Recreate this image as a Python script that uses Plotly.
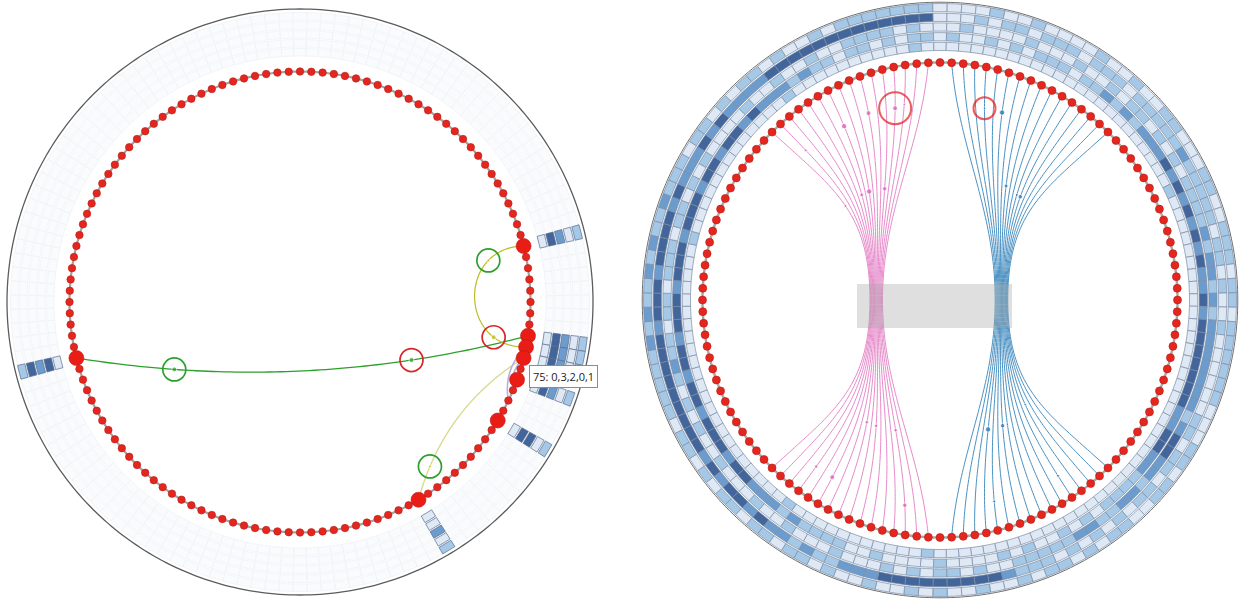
import math
import plotly.graph_objects as go

N_NODES = 128
STEP = 360.0 / N_NODES
START_ANGLE = 196.875  # node 0 sits just below the west point; indices run clockwise

# Per-node values (0-3) for the five rings, innermost ring first, 16 nodes per chunk
ring_0 = ["0000000000010000", "0000000001000000", "0000100000000000", "0000000000000100",
          "0000000000000000", "0000000000000000", "0000000100000000", "0001000000000000"]
ring_1 = ["2332333233323332", "3323323222121101", "1010110100101011", "1011212122232323",
          "2323223233333332", "2332211110101001", "0100001000010011", "1121222332333233"]
ring_2 = ["1211011011101101", "0100001001001001", "1110100010000100", "0100101101010111",
          "1212212122222221", "2332212211221111", "1001011010100010", "0010010001001010"]
ring_3 = ["3333233323333232", "2232322223333333", "3333330001011011", "1011101111121111",
          "1011010010000001", "1011011010101011", "1233333333322211", "2122323323233333"]
ring_4 = ["1112121121211211", "1011010110100101", "1111110000100100", "0010010011000110",
          "0111011011111100", "0110110011010110", "1001001010010010", "1101101101011011"]

RINGS = [[int(c) for c in "".join(chunks)] for chunks in (ring_0, ring_1, ring_2, ring_3, ring_4)]
for vals in RINGS:
    assert len(vals) == N_NODES

LEVEL_COLORS = ["#dfe9f5", "#a6c8e7", "#6c9ccd", "#42659b"]

# Left view: nodes in focus and the hovered node
focus_nodes = [1, 65, 73, 74, 75, 77, 81, 91]
hover_node = 75

# Left view links
left_src = [1, 65, 91, 74, 75]
left_dst = [73, 74, 75, 79, 78]
left_color = ["#2ca02c", "#bcbd22", "#d8d98a", "#b9aee0", "#b9aee0"]
left_width = [1.3, 1.2, 1.3, 1.6, 1.6]
left_bend = [32, 67, -23, 10, 6]
left_pull = [1 / 3, 0.0, 1 / 3, 1 / 3, 1 / 3]

# Marked points on left links: link index, position along link, ring color, dot color, dot size
mark_link = [0, 0, 1, 1, 2]
mark_pos = [0.215, 0.74, 0.23, 0.80, 0.19]
mark_ring = ["#2ca02c", "#d62728", "#2ca02c", "#d62728", "#2ca02c"]
mark_dot = ["#2ca02c", "#2ca02c", "#bcbd22", "#bcbd22", "#bcbd22"]
mark_size = [5, 5, 3, 5, 3]

# Right view: two bundles of links, source -> target
pink_src = [22, 23, 24, 25, 26, 27, 28, 29, 30, 31, 32, 33, 34, 35, 36, 37]
pink_dst = [118, 117, 116, 115, 114, 113, 112, 111, 110, 109, 108, 107, 106, 105, 104, 103]
blue_src = [39, 40, 41, 42, 43, 44, 45, 46, 47, 48, 49, 50, 51, 52, 53, 54]
blue_dst = [101, 100, 99, 98, 97, 96, 95, 94, 93, 92, 91, 90, 89, 88, 87, 86]

# Points on the bundled links: source node, position along link, size
pink_pt_node = [23, 28, 31, 34, 35, 22, 27, 29, 33, 29, 31, 35, 25, 27, 35]
pink_pt_pos = [0.08, 0.085, 0.08, 0.085, 0.08, 0.26, 0.26, 0.26, 0.265, 0.775, 0.775, 0.775, 0.935, 0.935, 0.94]
pink_pt_size = [3, 5.5, 5, 5, 2.5, 3, 4, 5.5, 4.5, 3.5, 3.5, 3.5, 3.5, 5, 4.5]
blue_pt_node = [42, 44, 46, 49, 50, 42, 45, 46, 51, 50, 43]
blue_pt_pos = [0.085, 0.085, 0.25, 0.26, 0.26, 0.775, 0.775, 0.775, 0.75, 0.945, 0.94]
blue_pt_size = [2.5, 5.5, 4, 3, 4.5, 5.5, 4.5, 2.5, 2.5, 3, 3]
# highlighted points: (bundle, index into its point list, ring size)
highlight = [("pink", 3, 32), ("blue", 0, 22)]

W, H = 1240, 599
L_CX, L_CY, L_RAD = 300, 302, 297
R_CX, R_CY, R_RAD = 940, 300, 299


def node_angle(k):
    return START_ANGLE - k * STEP


def node_xy(k, radius):
    a = math.radians(node_angle(k))
    return (radius * math.cos(a), radius * math.sin(a))


def to_polar(points):
    rs, ths = [], []
    for p in points:
        if p is None:
            rs.append(None)
            ths.append(None)
            continue
        rs.append(math.hypot(p[0], p[1]))
        ths.append(math.degrees(math.atan2(p[1], p[0])))
    return rs, ths


def cubic(p0, c1, c2, p3, t):
    u = 1 - t
    return (u ** 3 * p0[0] + 3 * u * u * t * c1[0] + 3 * u * t * t * c2[0] + t ** 3 * p3[0],
            u ** 3 * p0[1] + 3 * u * u * t * c1[1] + 3 * u * t * t * c2[1] + t ** 3 * p3[1])


L_NODE_R = 230.5
R_NODE_R = 237.5
PINK_WAIST = -61.5
BLUE_WAIST = 59.0
WAIST_H = 90.0
WAIST_SPREAD = 0.08
PULL = 0.45


def left_link_ctrl(i):
    p0 = node_xy(left_src[i], L_NODE_R)
    p3 = node_xy(left_dst[i], L_NODE_R)
    dx, dy = p3[0] - p0[0], p3[1] - p0[1]
    ln = math.hypot(dx, dy)
    nx, ny = dy / ln, -dx / ln  # clockwise normal
    a, b = left_pull[i], left_bend[i]
    c1 = (p0[0] + a * dx + b * nx, p0[1] + a * dy + b * ny)
    c2 = (p0[0] + (1 - a) * dx + b * nx, p0[1] + (1 - a) * dy + b * ny)
    return p0, c1, c2, p3


def bundle_point(src, dst, waist, s):
    p0 = node_xy(src, R_NODE_R)
    p3 = node_xy(dst, R_NODE_R)
    wx = waist + WAIST_SPREAD * (p0[0] - waist)
    if s <= 0.5:
        t = 2 * s
        tgt = (wx / 2, WAIST_H / 2)
        c1 = (p0[0] + PULL * (tgt[0] - p0[0]), p0[1] + PULL * (tgt[1] - p0[1]))
        return cubic(p0, c1, (wx, WAIST_H), (wx, 0.0), t)
    t = 2 * s - 1
    tgt = (wx / 2, -WAIST_H / 2)
    c2 = (p3[0] + PULL * (tgt[0] - p3[0]), p3[1] + PULL * (tgt[1] - p3[1]))
    return cubic((wx, 0.0), (wx, -WAIST_H), c2, p3, t)


fig = go.Figure()
thetas_all = [node_angle(k) for k in range(N_NODES)]
circle_th = [i * 1.0 for i in range(361)]


def ring_trace(subplot, theta, base, width, colors, line_color):
    return go.Barpolar(
        subplot=subplot, theta=theta, r=[width] * len(theta), base=[base] * len(theta),
        width=[STEP] * len(theta), marker=dict(color=colors, line=dict(color=line_color, width=0.7)),
        hoverinfo="skip", showlegend=False)


# ---------------- left view ----------------
for i in range(5):
    base = 246 + 9 * i
    fig.add_trace(ring_trace("polar", thetas_all, base, 7.5, ["#fafbfd"] * N_NODES, "#eef1f5"))
for i in range(5):
    base = 246 + 9 * i
    fig.add_trace(ring_trace("polar", [node_angle(k) for k in focus_nodes], base, 7.5,
                             [LEVEL_COLORS[RINGS[i][k]] for k in focus_nodes], "#5a6f8e"))

fig.add_trace(go.Scatterpolar(subplot="polar", r=[293] * len(circle_th), theta=circle_th, mode="lines",
                              line=dict(color="#5c5c5c", width=1.3), hoverinfo="skip", showlegend=False))
fig.add_trace(go.Scatterpolar(subplot="polar", r=[L_NODE_R] * len(circle_th), theta=circle_th, mode="lines",
                              line=dict(color="#a2a2a2", width=2.2), hoverinfo="skip", showlegend=False))

for i in range(len(left_src)):
    p0, c1, c2, p3 = left_link_ctrl(i)
    pts = [cubic(p0, c1, c2, p3, j / 80) for j in range(81)]
    r, th = to_polar(pts)
    fig.add_trace(go.Scatterpolar(subplot="polar", r=r, theta=th, mode="lines",
                                  line=dict(color=left_color[i], width=left_width[i]),
                                  hoverinfo="skip", showlegend=False))

fig.add_trace(go.Scatterpolar(subplot="polar", r=[L_NODE_R] * N_NODES, theta=thetas_all, mode="markers",
                              marker=dict(size=7.5, color="#e4261f", line=dict(color="#b71d18", width=0.6)),
                              hoverinfo="skip", showlegend=False, cliponaxis=False))
fig.add_trace(go.Scatterpolar(subplot="polar", r=[L_NODE_R] * len(focus_nodes),
                              theta=[node_angle(k) for k in focus_nodes], mode="markers",
                              marker=dict(size=15, color="#ea1c16", line=dict(color="#c0150f", width=0.6)),
                              hoverinfo="skip", showlegend=False, cliponaxis=False))

mark_pts = []
for li, s in zip(mark_link, mark_pos):
    p0, c1, c2, p3 = left_link_ctrl(li)
    mark_pts.append(cubic(p0, c1, c2, p3, s))
mr, mth = to_polar(mark_pts)
fig.add_trace(go.Scatterpolar(subplot="polar", r=mr, theta=mth, mode="markers",
                              marker=dict(size=mark_size, color=mark_dot),
                              hoverinfo="skip", showlegend=False))
fig.add_trace(go.Scatterpolar(subplot="polar", r=mr, theta=mth, mode="markers",
                              marker=dict(symbol="circle-open", size=23, color=mark_ring, line=dict(width=1.7)),
                              hoverinfo="skip", showlegend=False))

# ---------------- right view ----------------
for i in range(5):
    base = 249.5 + 9.7 * i
    fig.add_trace(ring_trace("polar2", thetas_all, base, 8.2,
                             [LEVEL_COLORS[v] for v in RINGS[i]], "#7d8ca4"))
fig.add_trace(go.Scatterpolar(subplot="polar2", r=[297.8] * len(circle_th), theta=circle_th, mode="lines",
                              line=dict(color="#6e6e6e", width=1), hoverinfo="skip", showlegend=False))
fig.add_trace(go.Scatterpolar(subplot="polar2", r=[R_NODE_R] * len(circle_th), theta=circle_th, mode="lines",
                              line=dict(color="#a3aaa3", width=2.4), hoverinfo="skip", showlegend=False))


def bundle_trace(srcs, dsts, waist, color, opacity):
    pts = []
    for a, b in zip(srcs, dsts):
        pts.extend(bundle_point(a, b, waist, j / 120) for j in range(121))
        pts.append(None)
    r, th = to_polar(pts)
    return go.Scatterpolar(subplot="polar2", r=r, theta=th, mode="lines", connectgaps=False,
                           line=dict(color=color, width=1), opacity=opacity,
                           hoverinfo="skip", showlegend=False)


fig.add_trace(bundle_trace(pink_src, pink_dst, PINK_WAIST, "#e377c2", 0.85))
fig.add_trace(bundle_trace(blue_src, blue_dst, BLUE_WAIST, "#1f77b4", 0.8))

fig.add_trace(go.Scatterpolar(subplot="polar2", r=[R_NODE_R] * N_NODES, theta=thetas_all, mode="markers",
                              marker=dict(size=8, color="#e4261f", line=dict(color="#b71d18", width=0.6)),
                              hoverinfo="skip", showlegend=False, cliponaxis=False))


def bundle_points(nodes, positions, srcs, dsts, waist):
    lookup = dict(zip(srcs, dsts))
    return [bundle_point(n, lookup[n], waist, s) for n, s in zip(nodes, positions)]


pink_pts = bundle_points(pink_pt_node, pink_pt_pos, pink_src, pink_dst, PINK_WAIST)
blue_pts = bundle_points(blue_pt_node, blue_pt_pos, blue_src, blue_dst, BLUE_WAIST)
for pts, sizes, color in ((pink_pts, pink_pt_size, "#d957b3"), (blue_pts, blue_pt_size, "#1f6fb0")):
    r, th = to_polar(pts)
    fig.add_trace(go.Scatterpolar(subplot="polar2", r=r, theta=th, mode="markers",
                                  marker=dict(size=sizes, color=color), hoverinfo="skip", showlegend=False))

hl_pts = [(pink_pts if b == "pink" else blue_pts)[i] for b, i, _ in highlight]
hr, hth = to_polar(hl_pts)
fig.add_trace(go.Scatterpolar(subplot="polar2", r=hr, theta=hth, mode="markers",
                              marker=dict(symbol="circle-open", size=[sz for _, _, sz in highlight],
                                          color="#e3171b", line=dict(width=2)),
                              hoverinfo="skip", showlegend=False))

# ---------------- layout ----------------
hidden_polar = dict(
    radialaxis=dict(visible=False), angularaxis=dict(visible=False, rotation=0, direction="counterclockwise"),
    bgcolor="rgba(0,0,0,0)", barmode="overlay", hole=0)

fig.update_layout(
    width=W, height=H, margin=dict(l=0, r=0, t=0, b=0), autosize=False,
    paper_bgcolor="white", plot_bgcolor="white", showlegend=False,
    polar=dict(hidden_polar,
               domain=dict(x=[(L_CX - L_RAD) / W, (L_CX + L_RAD) / W],
                           y=[(H - L_CY - L_RAD) / H, (H - L_CY + L_RAD) / H])),
    polar2=dict(hidden_polar,
                domain=dict(x=[(R_CX - R_RAD) / W, (R_CX + R_RAD) / W],
                            y=[(H - R_CY - R_RAD) / H, (H - R_CY + R_RAD) / H])),
)
fig.layout.polar.radialaxis.range = [0, L_RAD]
fig.layout.polar2.radialaxis.range = [0, R_RAD]

# translucent band across the centre of the right view
fig.add_shape(type="rect", xref="paper", yref="paper", layer="above",
              x0=857 / W, x1=1012 / W, y0=1 - 328 / H, y1=1 - 284 / H,
              fillcolor="rgba(170,170,170,0.38)", line=dict(width=0))

# hover label for the hovered node
tip = f"{hover_node}: " + ",".join(str(RINGS[i][hover_node]) for i in range(5))
fig.add_annotation(xref="paper", yref="paper", x=529 / W, y=1 - 376 / H, xanchor="left", yanchor="middle",
                   text=tip, showarrow=False, font=dict(family="Open Sans", size=11, color="#222"),
                   bgcolor="white", bordercolor="#8c8c8c", borderwidth=1, borderpad=3)

fig.write_html("out.html", config={"displayModeBar": False})
